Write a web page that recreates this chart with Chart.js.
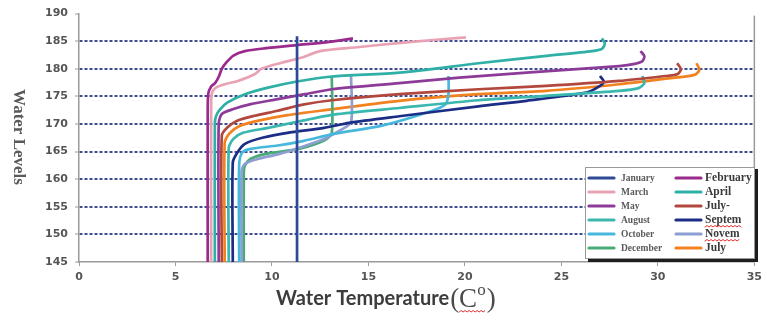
<!DOCTYPE html>
<html><head><meta charset="utf-8">
<script src="https://cdn.jsdelivr.net/npm/chart.js@4.4.1/dist/chart.umd.min.js"></script>
<style>html,body{margin:0;padding:0;background:#fff}</style>
</head><body>
<canvas id="c" width="767" height="320" style="width:767px;height:320px;display:block"></canvas>
<script>
// ---- data: [water temperature (°C), water level] pairs ----
const monthLabels = ["January","February","March","April","May","July-","August","Septem","October","Novem","December","July"];
const january  = [[11.3,145],[11.3,185.9]];
const february = [[6.67,145],[6.67,172],[6.7,175.5],[6.85,176.8],[7.05,177.4],[7.25,178.6],[7.4,180],[7.65,181.2],[8.0,182.4],[8.6,183.2],[9.6,183.7],[11.3,184.3],[12.8,184.8],[14.2,185.5]];
const march    = [[6.85,145],[6.85,174],[6.9,175.7],[7.1,176.6],[7.55,177.2],[8.24,177.8],[9.1,179.0],[9.45,180.0],[10.5,181.1],[11.5,182.0],[12.5,183.2],[14.4,183.9],[16.95,184.8],[20.05,185.7]];
const april    = [[7.04,145],[7.04,170],[7.1,171.4],[7.3,172.6],[7.7,173.9],[8.6,175.4],[9.8,176.6],[11.3,177.7],[13.1,178.6],[16.6,179.3],[20.7,181.0],[24.1,182.3],[26.6,183.2],[27.1,183.6],[27.25,184.6],[27.1,185.5]];
const may      = [[7.24,145],[7.24,170],[7.4,171.8],[8.0,172.7],[8.9,173.6],[10.3,174.5],[11.7,175.4],[13.1,176.3],[16.6,177.4],[19.7,178.4],[23.2,179.3],[28.0,180.5],[28.8,180.9],[29.2,181.4],[29.3,182.3],[29.1,183.2]];
const june     = [[7.4,145],[7.4,167.9],[7.7,169.4],[8.2,170.6],[9.1,171.5],[10.3,172.4],[11.6,173.5],[13.1,174.3],[16.6,175.4],[20.7,176.3],[24.2,176.9],[28.0,177.8],[30.4,178.7],[31.0,179.0],[31.2,179.9],[31.0,181.0]];
const august   = [[7.76,145],[7.76,165.7],[8.0,167.3],[8.5,168.4],[9.8,169.3],[11.3,170.4],[13.2,171.7],[16.6,172.9],[20.7,174.3],[24.2,175.1],[28.0,176.0],[29.0,176.5],[29.3,177.4],[29.2,178.7]];
const september= [[7.97,145],[7.97,163],[8.2,164.8],[8.6,166.4],[9.5,167.5],[10.8,168.4],[12.7,169.3],[14.0,170.2],[16.6,171.4],[20.7,173.2],[23.2,174.2],[26.3,175.7],[27.0,176.9],[27.2,177.7],[27.0,178.7]];
const october  = [[8.3,145],[8.3,162.5],[8.45,164.8],[8.9,165.5],[10.3,166.1],[11.6,166.9],[13.2,168.2],[15.7,169.7],[18.3,172.4],[19.0,173.6],[19.15,175.5],[19.15,178.7]];
const november = [[8.43,145],[8.43,161.5],[8.6,162.8],[9.3,163.7],[10.3,164.5],[11.5,165.8],[12.7,167.3],[13.5,168.8],[14.1,170.3],[14.1,178.7]];
const december = [[8.54,145],[8.54,161],[8.6,162.5],[8.9,163.7],[9.7,164.6],[11.4,165.5],[12.7,167.0],[13.1,168.4],[13.1,178.7]];
const july     = [[7.55,145],[7.55,166.5],[7.8,168.3],[8.3,169.6],[9.3,170.6],[10.8,171.6],[12.5,172.4],[16.6,174.2],[20.7,175.4],[24.2,176.0],[28.0,177.2],[30.4,178.2],[31.9,178.9],[32.15,179.8],[32.0,181.0]];
const seriesData = [january,february,march,april,may,june,august,september,october,november,december,july];
const xTickValues = [0,5,10,15,20,25,30,35];
const yTickValues = [145,150,155,160,165,170,175,180,185,190];
const gridLevels  = [150,155,160,165,170,175,180,185];

const colors = ["#2e4a96","#9a2a8c","#e9a2b4","#2fb0a6","#8d3b98","#b2473d","#3ab7ae","#1c2d86","#47b8dc","#8c9ed2","#4aab77","#f2821f"];

const datasets = seriesData.map((d,i)=>({
  label: monthLabels[i],
  data: d.map(p=>({x:p[0],y:p[1]})),
  showLine: true, pointRadius: 0, borderWidth: 2.7,
  borderColor: colors[i], backgroundColor: colors[i],
  tension: 0.25, fill: false
}));

function wavy(ctx,x0,x1,y){
  ctx.save(); ctx.strokeStyle='#e03030'; ctx.lineWidth=1; ctx.beginPath();
  let up=true; ctx.moveTo(x0,y);
  for(let x=x0+2;x<=x1;x+=2){ ctx.lineTo(x, up? y-1.5 : y); up=!up; }
  ctx.stroke(); ctx.restore();
}

const decor = {
  id:'decor',
  beforeDatasetsDraw(chart){
    const {ctx, chartArea:a} = chart;
    ctx.save(); ctx.strokeStyle='#9a9a9a'; ctx.lineWidth=1.5;
    ctx.beginPath(); ctx.moveTo(a.right, a.top+2); ctx.lineTo(a.right, a.bottom); ctx.stroke();
    ctx.restore();
  },
  afterDatasetsDraw(chart){
    const {ctx} = chart;
    const lx=585, ly=167, lw=170, lh=92;
    ctx.save();
    ctx.fillStyle='#1e1e1e'; ctx.fillRect(lx+3, ly+2, lw, lh+1);
    ctx.fillStyle='#fff'; ctx.fillRect(lx, ly, lw, lh);
    ctx.strokeStyle='#9a9a9a'; ctx.lineWidth=1; ctx.strokeRect(lx+0.5, ly+0.5, lw-1, lh-1);
    chart.data.datasets.forEach((ds,i)=>{
      const col=i%2, row=Math.floor(i/2);
      const y = 178 + row*14;
      const x0 = col ? 676 : 589;
      ctx.strokeStyle=ds.borderColor; ctx.lineWidth=3.2; ctx.lineCap='round';
      ctx.beginPath(); ctx.moveTo(x0,y); ctx.lineTo(x0+25,y); ctx.stroke();
      ctx.fillStyle = col ? '#3a3a3a' : '#5a5a5a';
      ctx.font = col ? 'bold 11.5px "Liberation Serif"' : 'bold 9.5px "Liberation Serif"';
      ctx.textAlign='left'; ctx.textBaseline='middle';
      const tx = col ? 705 : 621;
      ctx.fillText(ds.label, tx, y+0.5);
      if (ds.label==='Septem' || ds.label==='Novem'){
        const w = ctx.measureText(ds.label).width;
        wavy(ctx, tx, tx+w, y+7);
      }
    });
    ctx.restore();
  },
  afterDraw(chart){
    const {ctx} = chart;
    ctx.save();
    ctx.translate(18, 137); ctx.rotate(Math.PI/2);
    ctx.font='bold 17px "Liberation Serif"'; ctx.fillStyle='#5a5a5a';
    ctx.textAlign='center'; ctx.textBaseline='middle';
    ctx.fillText('Water Levels',0,0);
    ctx.restore();
    ctx.save();
    const base=305;
    ctx.font='bold 20px Lato'; ctx.fillStyle='#3c3c3c'; ctx.textAlign='left'; ctx.textBaseline='alphabetic';
    const t1='Water Temperature';
    ctx.fillText(t1, 276, base);
    let x = 276 + ctx.measureText(t1).width + 1;
    ctx.font='27px "Liberation Serif"'; ctx.fillStyle='#4a4a4a';
    ctx.fillText('(', x, base+2); x += ctx.measureText('(').width;
    const cw = ctx.measureText('C').width;
    ctx.fillText('C', x, base+2);
    ctx.font='17px "Liberation Serif"';
    ctx.fillText('o', x+cw, base-10);
    const ow = ctx.measureText('o').width;
    wavy(ctx, x, x+cw+ow+1, base+7);
    ctx.font='27px "Liberation Serif"';
    ctx.fillText(')', x+cw+ow+1, base+2);
    ctx.restore();
  }
};

new Chart(document.getElementById('c'), {
  type:'scatter',
  data:{datasets},
  plugins:[decor],
  options:{
    responsive:false, animation:false, devicePixelRatio:1,
    layout:{padding:{top:12,right:10,left:0,bottom:0}},
    plugins:{legend:{display:false}, tooltip:{enabled:false}},
    scales:{
      x:{
        type:'linear', min:0, max:35,
        afterBuildTicks:s=>{ s.ticks = xTickValues.map(v=>({value:v})); },
        afterFit:s=>{ s.height = 58; },
        grid:{drawOnChartArea:false, drawTicks:true, tickLength:4, tickColor:'#9a9a9a'},
        border:{color:'#9a9a9a', width:1.5},
        ticks:{font:{family:'"DejaVu Sans"', size:11, weight:'bold'}, color:'#555', padding:5, maxRotation:0}
      },
      y:{
        type:'linear', min:145, max:190,
        afterBuildTicks:s=>{ s.ticks = yTickValues.map(v=>({value:v})); },
        afterFit:s=>{ s.width = 79; },
        grid:{
          color:ctx=> gridLevels.includes(ctx.tick && ctx.tick.value) ? '#3f4c90' : 'rgba(0,0,0,0)',
          lineWidth:2, tickLength:4, tickColor:'#9a9a9a', tickWidth:1, tickBorderDash:[]
        },
        border:{color:'#9a9a9a', width:1.5, dash:[3,2]},
        ticks:{font:{family:'"DejaVu Sans"', size:11, weight:'bold'}, color:'#555', padding:7}
      }
    }
  }
});
</script>
</body></html>
